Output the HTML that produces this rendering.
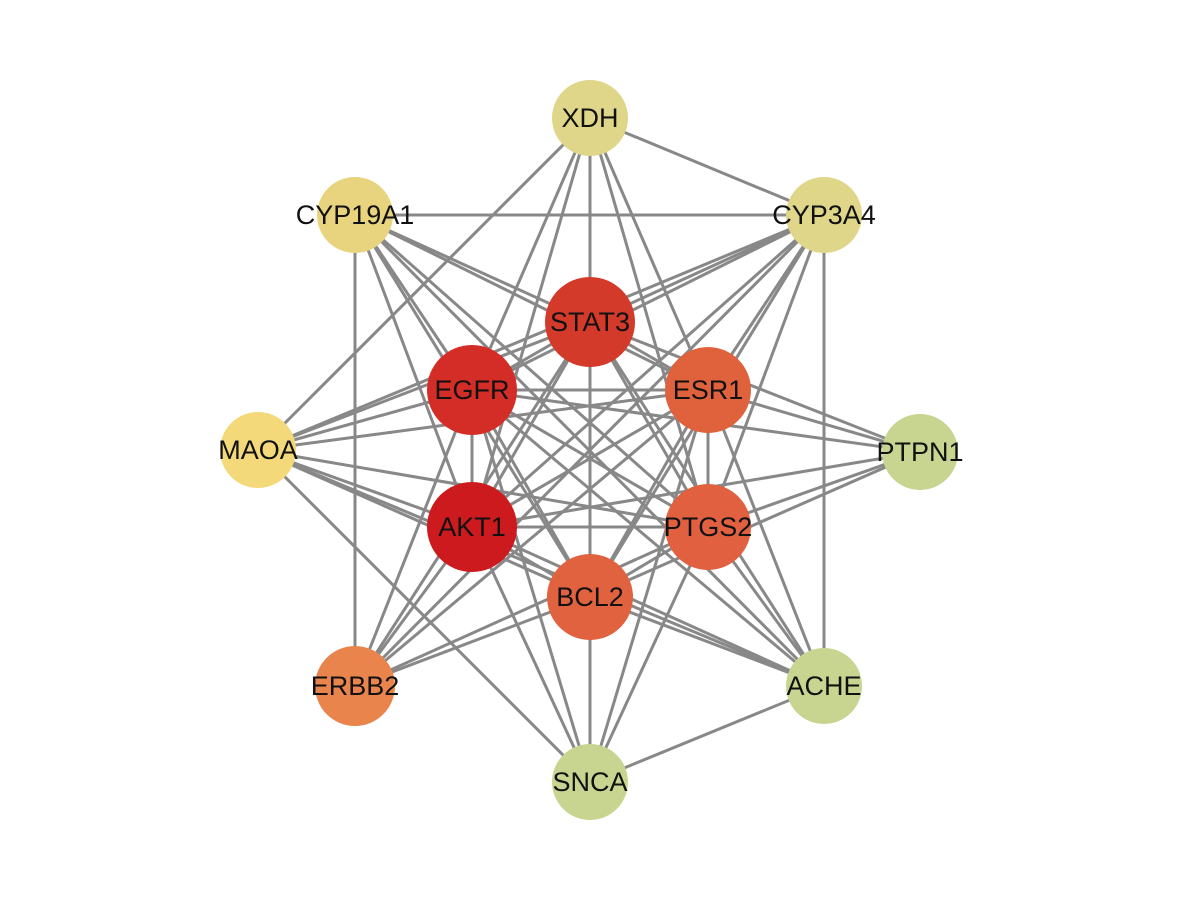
<!DOCTYPE html>
<html><head><meta charset="utf-8"><style>
html,body{margin:0;padding:0;background:#fff;}
svg{display:block;}
text{font-family:"Liberation Sans",sans-serif;font-size:27px;fill:#111;text-anchor:middle;dominant-baseline:central;}
</style></head><body>
<svg id="s" width="1200" height="900" viewBox="0 0 1200 900" xmlns="http://www.w3.org/2000/svg">
<g id="e" stroke="#888" stroke-width="3" fill="none"></g>
<g id="n"></g>
</svg>
<script>
var N={
XDH:[590,118,38,"#dfd68a"],CYP19A1:[355,215,38,"#e8d47f"],CYP3A4:[824,215,38,"#dfd68a"],
MAOA:[258,450,38,"#f3d97a"],PTPN1:[920,452,38,"#c8d590"],ERBB2:[355,686,40,"#e8844c"],
ACHE:[824,686,38,"#c8d590"],SNCA:[590,782,38,"#c8d590"],
STAT3:[590,322,45,"#d43a2a"],EGFR:[472,390,45,"#d42c26"],ESR1:[708,390,43,"#e0623c"],
AKT1:[472,527,45,"#cc1a1e"],PTGS2:[708,527,43,"#e06040"],BCL2:[590,597,43,"#e0623e"]};
var inner=["STAT3","EGFR","ESR1","AKT1","PTGS2","BCL2"];
var outer=["XDH","CYP19A1","CYP3A4","MAOA","PTPN1","ERBB2","ACHE","SNCA"];
var E=[];
for(var i=0;i<6;i++)for(var j=i+1;j<6;j++)E.push([inner[i],inner[j]]);
outer.forEach(function(o){inner.forEach(function(k){E.push([o,k]);});});
E.push(["XDH","CYP3A4"],["XDH","MAOA"],["CYP19A1","CYP3A4"],["CYP19A1","ERBB2"],["CYP3A4","ACHE"],
["ACHE","SNCA"],["MAOA","SNCA"],["CYP3A4","ERBB2"],["MAOA","CYP3A4"],["CYP19A1","ACHE"],["MAOA","ACHE"]);
var ns="http://www.w3.org/2000/svg",ge=document.getElementById("e"),gn=document.getElementById("n");
E.forEach(function(p){var a=N[p[0]],b=N[p[1]];var l=document.createElementNS(ns,"line");
l.setAttribute("x1",a[0]);l.setAttribute("y1",a[1]);l.setAttribute("x2",b[0]);l.setAttribute("y2",b[1]);ge.appendChild(l);});
for(var k in N){var v=N[k];var c=document.createElementNS(ns,"circle");
c.setAttribute("cx",v[0]);c.setAttribute("cy",v[1]);c.setAttribute("r",v[2]);c.setAttribute("fill",v[3]);gn.appendChild(c);
var t=document.createElementNS(ns,"text");t.setAttribute("x",v[0]);t.setAttribute("y",v[1]);t.textContent=k;gn.appendChild(t);}
</script>
</body></html>
